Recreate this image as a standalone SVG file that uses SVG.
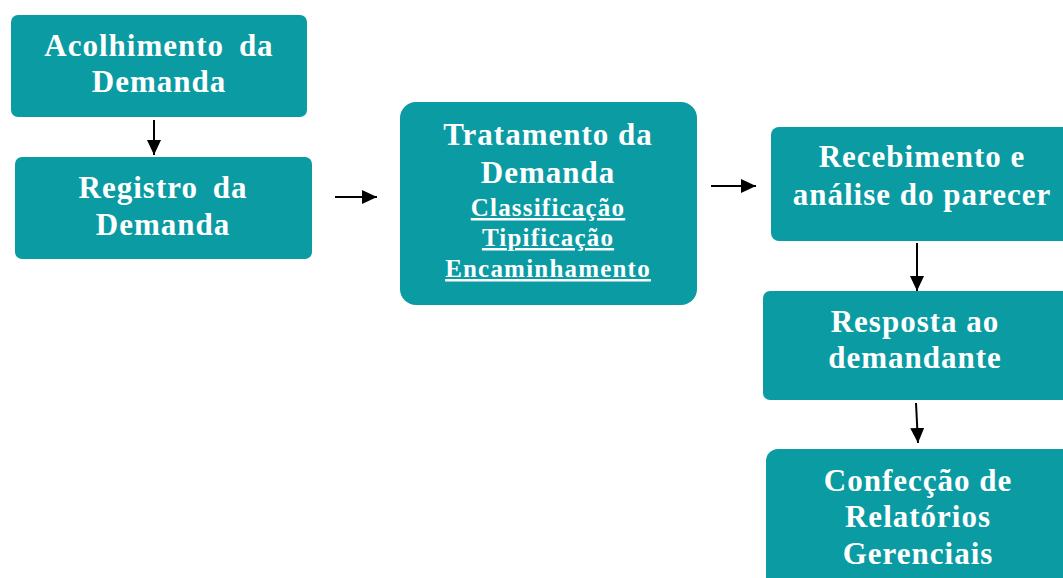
<svg xmlns="http://www.w3.org/2000/svg" width="1063" height="578" viewBox="0 0 1063 578">
<defs>
<style>
.box{fill:#0A9BA3;}
.t{font-family:"Liberation Serif","Times New Roman",serif;font-weight:bold;font-size:31px;fill:#ffffff;text-anchor:middle;letter-spacing:1px;}
.s{font-family:"Liberation Serif","Times New Roman",serif;font-weight:bold;font-size:25px;fill:#ffffff;text-anchor:middle;letter-spacing:1.2px;text-decoration:underline;}
.c{stroke:#000;stroke-width:2;fill:none;}
</style>
<marker id="ah" markerUnits="userSpaceOnUse" markerWidth="15" markerHeight="14" refX="15" refY="7" orient="auto">
<path d="M0,0 L15,7 L0,14 Z" fill="#000"/>
</marker>
</defs>
<rect width="1063" height="578" fill="#ffffff"/>
<g id="acolhimento">
<rect class="box" x="11" y="15" width="296" height="102" rx="7"/>
<text class="t" x="159" y="56">Acolhimento <tspan dx="6">da</tspan></text>
<text class="t" x="159" y="92">Demanda</text>
</g>
<g id="registro">
<rect class="box" x="15" y="157" width="297" height="102" rx="7"/>
<text class="t" x="163" y="198">Registro <tspan dx="6">da</tspan></text>
<text class="t" x="163" y="235">Demanda</text>
</g>
<g id="tratamento">
<rect class="box" x="400" y="102" width="297" height="203" rx="16"/>
<text class="t" x="548" y="145">Tratamento da</text>
<text class="t" x="548" y="183">Demanda</text>
<text class="s" x="548" y="216">Classificação</text>
<text class="s" x="548" y="246">Tipificação</text>
<text class="s" x="548" y="277">Encaminhamento</text>
</g>
<g id="recebimento">
<rect class="box" x="771" y="127" width="310" height="114" rx="8"/>
<text class="t" x="922" y="167">Recebimento e</text>
<text class="t" x="922" y="205">análise do parecer</text>
</g>
<g id="resposta">
<rect class="box" x="763" y="291" width="318" height="109" rx="7"/>
<text class="t" x="915" y="332">Resposta ao</text>
<text class="t" x="915" y="368">demandante</text>
</g>
<g id="confeccao">
<rect class="box" x="766" y="449" width="315" height="150" rx="12"/>
<text class="t" x="918" y="491">Confecção de</text>
<text class="t" x="918" y="527">Relatórios</text>
<text class="t" x="918" y="564">Gerenciais</text>
</g>
<g id="connectors">
<line class="c" x1="154" y1="120" x2="154" y2="155" marker-end="url(#ah)"/>
<line class="c" x1="335" y1="197" x2="377" y2="197" marker-end="url(#ah)"/>
<line class="c" x1="711" y1="186" x2="756" y2="186" marker-end="url(#ah)"/>
<line class="c" x1="917" y1="243" x2="917" y2="291" marker-end="url(#ah)"/>
<line class="c" x1="916" y1="403" x2="918" y2="443" marker-end="url(#ah)"/>
</g>
</svg>
